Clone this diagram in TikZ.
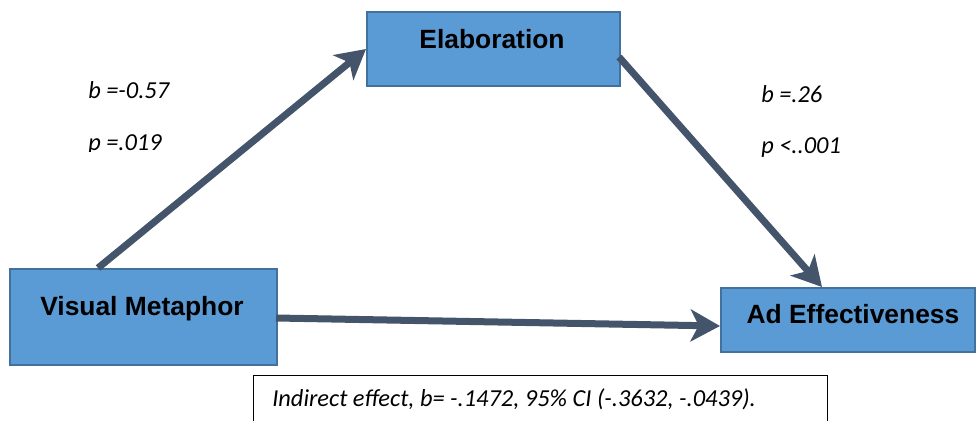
\documentclass[tikz,border=0pt]{standalone}
\usepackage{fontspec}
\setmainfont{Liberation Sans}
\newfontfamily\labfont{Carlito}
\usetikzlibrary{arrows.meta}
\definecolor{boxfill}{HTML}{5B9BD5}
\definecolor{boxline}{HTML}{41719C}
\definecolor{arrcol}{HTML}{44546A}
\tikzset{
  box/.style={draw=boxline, fill=boxfill, line width=1.5pt, anchor=north west, inner sep=0pt},
  boxtext/.style={anchor=base, inner sep=0pt, font=\fontsize{19.8}{23}\selectfont\bfseries},
  lab/.style={anchor=base west, inner sep=0pt, font=\labfont\itshape\fontsize{18.3}{21}\selectfont},
  conn/.style={draw=arrcol, line width=5.25pt, -{Stealth[length=22pt,width=24pt,inset=6pt]}},
  note/.style={draw=black, line width=1pt, anchor=north west, inner sep=0pt}
}
\begin{document}
\begin{tikzpicture}[x=0.75pt,y=-0.75pt]
\useasboundingbox (0,0) rectangle (976,421);
\clip (0,0) rectangle (976,421);
% boxes
\node[box, minimum width=253*0.75pt, minimum height=74*0.75pt] (elab) at (366,11) {};
\node[box, minimum width=267*0.75pt, minimum height=96*0.75pt] (vm) at (9,268) {};
\node[box, minimum width=254*0.75pt, minimum height=64*0.75pt] (ad) at (720,287) {};
\node[note, minimum width=574*0.75pt, minimum height=60*0.75pt] (ind) at (253,375) {};
% box texts
\node[boxtext] (elabt) at (492,48) {Elaboration};
\node[boxtext] (vmt) at (142,315) {Visual Metaphor};
\node[boxtext] (adt) at (853,323) {Ad Effectiveness};
\node[lab] (indt) at (272,406) {Indirect effect, b= -.1472, 95\% CI (-.3632, -.0439).};
% connector end points
\coordinate (a1s) at (98,268);
\coordinate (a1e) at (366,49);
\coordinate (a2s) at (619,57);
\coordinate (a2e) at (822,287);
\coordinate (a3s) at (276,318);
\coordinate (a3e) at (720,326);
\draw[conn] (a1s) -- (a1e);
\draw[conn] (a2s) -- (a2e);
\draw[conn] (a3s) -- (a3e);
% labels
\node[lab] (b1) at (88,98) {b =-0.57};
\begin{scope}
\clip (60,120) rectangle (200,151);
\node[lab] (p1) at (88,150) {p =.019};
\end{scope}
\node[lab] (b2) at (761,102) {b =.26};
\node[lab] (p2) at (761,153) {p <..001};
\end{tikzpicture}
\end{document}
